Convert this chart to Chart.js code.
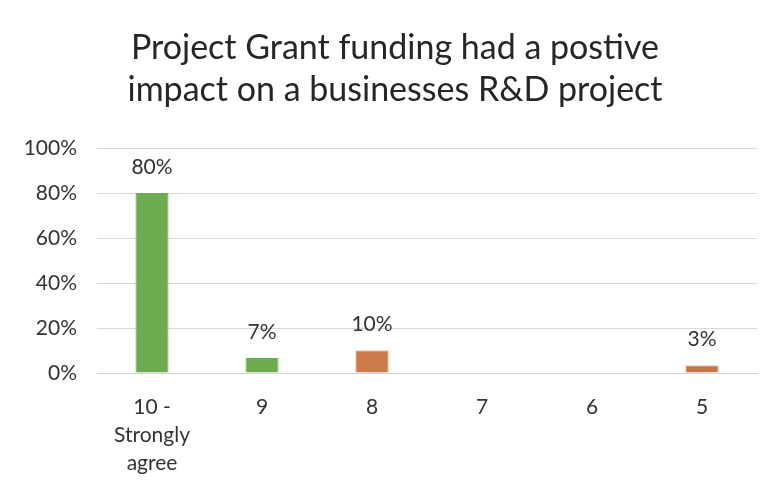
<!DOCTYPE html>
<html>
<head>
<meta charset="utf-8">
<script src="https://cdn.jsdelivr.net/npm/chart.js@4.4.1/dist/chart.umd.min.js"></script>
<style>
    html, body { margin: 0; padding: 0; background: #ffffff; }
    #wrap { width: 779px; height: 492px; position: relative; }
</style>
</head>
<body>
<div id="wrap"><canvas id="chart"></canvas></div>
<script>
// survey answers, percent of businesses
const categories = [["10 -", "Strongly", "agree"], "9", "8", "7", "6", "5"];
const shares = [80, 6.7, 10, 0, 0, 3.3];
const barColors = ["#6cab4f", "#6cab4f", "#cc7b49", "#cc7b49", "#cc7b49", "#c57646"];
const yTicks = [0, 20, 40, 60, 80, 100];
const titleLines = ["Project Grant funding had a postive", "impact on a businesses R&D project"];

const FONT = "Lato, 'Open Sans', sans-serif";

// title sits a little right of the canvas centre, as in the original
const chartTitle = {
    id: "chartTitle",
    afterDraw(chart) {
        const ctx = chart.ctx;
        ctx.save();
        ctx.font = "34px " + FONT;
        ctx.fillStyle = "#262626";
        ctx.textAlign = "center";
        ctx.textBaseline = "alphabetic";
        titleLines.forEach((line, i) => ctx.fillText(line, 395, 59 + i * 42));
        ctx.restore();
    }
};

// value labels above the bars
const valueLabels = {
    id: "valueLabels",
    afterDatasetsDraw(chart) {
        const ctx = chart.ctx;
        const meta = chart.getDatasetMeta(0);
        ctx.save();
        ctx.font = "21px " + FONT;
        ctx.fillStyle = "#333333";
        ctx.textAlign = "center";
        ctx.textBaseline = "middle";
        meta.data.forEach((bar, i) => {
            const v = shares[i];
            if (!v) return;
            ctx.fillText(Math.round(v) + "%", bar.x, bar.y - 26);
        });
        ctx.restore();
    }
};

new Chart(document.getElementById("chart"), {
    type: "bar",
    data: {
        labels: categories,
        datasets: [{
            data: shares,
            backgroundColor: barColors,
            borderColor: barColors,
            borderWidth: 1,
            categoryPercentage: 1,
            barPercentage: 0.3
        }]
    },
    options: {
        responsive: true,
        maintainAspectRatio: false,
        animation: false,
        layout: { padding: { top: 148, left: 0, right: 22, bottom: 0 } },
        plugins: {
            legend: { display: false },
            tooltip: { enabled: false },
            title: { display: false }
        },
        scales: {
            x: {
                grid: { display: false },
                border: { color: "#d0d0d0" },
                ticks: {
                    color: "#333333",
                    font: { family: FONT, size: 21, lineHeight: 1.33 },
                    maxRotation: 0,
                    autoSkip: false,
                    padding: 12
                },
                afterFit(scale) { scale.height = 119; }
            },
            y: {
                min: 0,
                max: 100,
                afterBuildTicks(scale) { scale.ticks = yTicks.map(v => ({ value: v })); },
                grid: { color: "#d9d9d9", drawTicks: false },
                border: { display: false },
                ticks: {
                    color: "#333333",
                    font: { family: FONT, size: 21 },
                    padding: 20,
                    callback: v => v + "%"
                },
                afterFit(scale) { scale.width = 97; }
            }
        }
    },
    plugins: [valueLabels, chartTitle]
});
</script>
</body>
</html>
